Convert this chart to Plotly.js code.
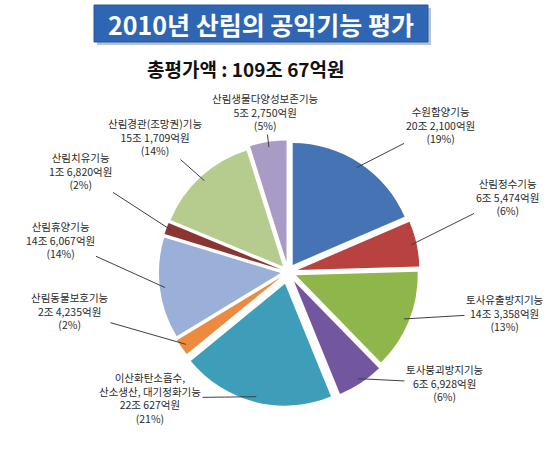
<!DOCTYPE html>
<html>
<head>
<meta charset="utf-8">
<script src="https://cdn.plot.ly/plotly-3.0.1.min.js"></script>
<style>
  body { margin: 0; background: #fff; }
  #myPlot { width: 550px; height: 458px; }
</style>
</head>
<body>
<div id="myPlot"></div>
<script>
// 2010 forest public function values, unit: 억원
var functions = ['수원함양기능',
'산림정수기능',
'토사유출방지기능',
'토사붕괴방지기능',
'이산화탄소흡수,<br>산소생산, 대기정화기능',
'산림동물보호기능',
'산림휴양기능',
'산림치유기능',
'산림경관(조망권)기능',
'산림생물다양성보존기능'];

var amounts = [202100, 65474, 143358, 66928, 220627, 24235, 146067, 16820, 151709, 52750];

var amountText = ['20조 2,100억원',
'6조 5,474억원',
'14조 3,358억원',
'6조 6,928억원',
'22조 627억원',
'2조 4,235억원',
'14조 6,067억원',
'1조 6,820억원',
'15조 1,709억원',
'5조 2,750억원'];

var shares = ['19%', '6%', '13%', '6%', '21%', '2%', '14%', '2%', '14%', '5%'];

var colors = ['#4573B3', '#B8423F', '#8FB64A', '#7257A0', '#3E9DB8',
              '#EC8B40', '#9AB0D8', '#8B3533', '#B6CC8E', '#A99BC6'];
var pulls = [0.07, 0.08, 0.07, 0.09, 0.1, 0.07, 0.06, 0.06, 0.06, 0.08];

// label centres in pixels
var labelPos = [[440, 125], [507, 197], [505, 313], [445, 383], [150, 398],
                [70, 311], [60, 240], [80, 171], [155, 137], [265, 112]];

var W = 550, H = 458;
var cx = 288, cy = 272, box = 268;

var pie = {
  type: 'pie',
  labels: functions,
  values: amounts,
  sort: false,
  direction: 'clockwise',
  rotation: 0,
  pull: pulls,
  textinfo: 'none',
  hoverinfo: 'label+value+percent',
  marker: { colors: colors, line: { color: '#ffffff', width: 0 } },
  domain: {
    x: [(cx - box / 2) / W, (cx + box / 2) / W],
    y: [1 - (cy + box / 2) / H, 1 - (cy - box / 2) / H]
  }
};

var maxPull = Math.max.apply(null, pulls);
var r = box / (2 + 2 * maxPull);
var total = amounts.reduce(function(a, b) { return a + b; }, 0);

var annotations = [];
var cum = 0;
for (var i = 0; i < amounts.length; i++) {
  var mid = (cum + amounts[i] / 2) / total * 2 * Math.PI;
  cum += amounts[i];
  var rr = r * (1 + pulls[i]) * 0.96;
  var tipX = cx + rr * Math.sin(mid);
  var tipY = cy - rr * Math.cos(mid);
  annotations.push({
    xref: 'paper', yref: 'paper',
    x: tipX / W, y: 1 - tipY / H,
    ax: labelPos[i][0] - tipX, ay: labelPos[i][1] - tipY,
    axref: 'pixel', ayref: 'pixel',
    text: functions[i] + '<br>' + amountText[i] + '<br>(' + shares[i] + ')',
    showarrow: true, arrowhead: 0, arrowwidth: 1, arrowcolor: '#404040', standoff: 0,
    align: 'center',
    font: { family: 'Noto Sans CJK KR', size: 10.5, color: '#2a2a2a' }
  });
}

// banner + total
annotations.push({
  xref: 'paper', yref: 'paper', x: 261 / W, y: 1 - 24 / H,
  xanchor: 'center', yanchor: 'middle',
  text: '<b>2010년 산림의 공익기능 평가</b>', showarrow: false,
  font: { family: 'Noto Sans CJK KR', size: 25, color: '#ffffff' }
});
annotations.push({
  xref: 'paper', yref: 'paper', x: 246 / W, y: 1 - 68 / H,
  xanchor: 'center', yanchor: 'middle',
  text: '<b>총평가액 : 109조 67억원</b>', showarrow: false,
  font: { family: 'Noto Sans CJK KR', size: 19, color: '#111111' }
});

var layout = {
  width: W, height: H,
  margin: { l: 0, r: 0, t: 0, b: 0 },
  paper_bgcolor: '#ffffff',
  showlegend: false,
  shapes: [
    { type: 'rect', xref: 'paper', yref: 'paper', layer: 'below',
      x0: 97 / W, x1: 431 / W, y0: 1 - 45 / H, y1: 1 - 8 / H,
      fillcolor: '#B8C4D6', line: { width: 0 } },
    { type: 'rect', xref: 'paper', yref: 'paper', layer: 'below',
      x0: 94 / W, x1: 428 / W, y0: 1 - 42 / H, y1: 1 - 5 / H,
      fillcolor: '#2E66B3', line: { color: '#24569C', width: 1 } }
  ],
  annotations: annotations
};

Plotly.newPlot('myPlot', [pie], layout, { displayModeBar: false, staticPlot: true });
</script>
</body>
</html>
